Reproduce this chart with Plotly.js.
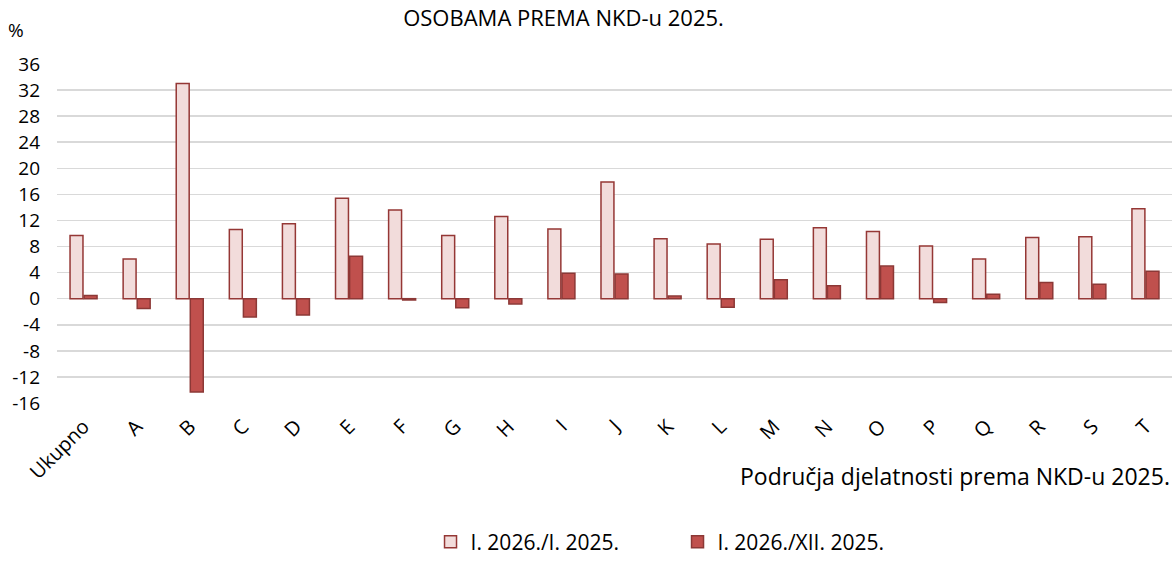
<!DOCTYPE html>
<html>
<head>
<meta charset="utf-8">
<script src="https://cdn.plot.ly/plotly-3.0.1.min.js"></script>
<style>html,body{margin:0;padding:0;background:#fff;}#chart{width:1174px;height:565px;}</style>
</head>
<body>
<div id="chart"></div>
<script>
const categories = ["Ukupno","A","B","C","D","E","F","G","H","I","J","K","L","M","N","O","P","Q","R","S","T"];
const seriesNames = ["I. 2026./I. 2025.", "I. 2026./XII. 2025."];
const yoy = [9.7, 6.1, 33.0, 10.6, 11.5, 15.4, 13.6, 9.7, 12.6, 10.7, 17.9, 9.2, 8.4, 9.1, 10.9, 10.3, 8.1, 6.1, 9.4, 9.5, 13.8];
const mom = [0.5, -1.5, -14.3, -2.8, -2.5, 6.5, -0.2, -1.4, -0.8, 3.9, 3.8, 0.4, -1.3, 2.9, 2.0, 5.0, -0.6, 0.7, 2.5, 2.2, 4.2];
const yTicks = [-16,-12,-8,-4,0,4,8,12,16,20,24,28,32,36];
const titleText = "OSOBAMA PREMA NKD-u 2025.";
const xTitle = "Područja djelatnosti prema NKD-u 2025.";
const yUnit = "%";

const FONT = "Open Sans, Noto Sans, sans-serif";
const traces = [
  {type:"bar", name:seriesNames[0], x:categories, y:yoy,
   marker:{color:"#F2DCDB", line:{color:"#953735", width:1.5}}},
  {type:"bar", name:seriesNames[1], x:categories, y:mom,
   marker:{color:"#C0504D", line:{color:"#8C3836", width:1.5}}}
];
const layout = {
  width:1174, height:565,
  margin:{l:57, r:2, t:64, b:157},
  paper_bgcolor:"#fff", plot_bgcolor:"#fff",
  font:{family:FONT, size:18, color:"#000"},
  barmode:"group", bargap:0.47, bargroupgap:0.08,
  title:{text:titleText, x:0.48, xanchor:"center", y:0.982, yanchor:"top", font:{family:FONT, size:22, color:"#000"}},
  xaxis:{type:"category", tickangle:-45, showgrid:false, zeroline:false, showline:false, ticks:"", ticklabelstandoff:7, tickfont:{size:20}},
  yaxis:{range:[-16,36], tickvals:yTicks, ticktext:yTicks.map(String), showgrid:true, gridcolor:"#D9D9D9", gridwidth:1.5,
         zeroline:true, zerolinecolor:"#D9D9D9", zerolinewidth:1.5, showline:false, ticks:"", ticklabelstandoff:16, tickfont:{size:19}},
  showlegend:true,
  legend:{orientation:"h", x:0.335, xanchor:"left", y:-0.41, yanchor:"middle", entrywidth:202, entrywidthmode:"pixels",
          itemwidth:30, font:{size:21}, traceorder:"normal"},
  annotations:[
    {text:yUnit, xref:"paper", yref:"paper", x:-0.046, y:1.1, xanchor:"left", yanchor:"middle", showarrow:false, font:{size:19}},
    {text:xTitle, xref:"paper", yref:"paper", x:1.0, y:-0.215, xanchor:"right", yanchor:"middle", showarrow:false, font:{size:23}}
  ]
};
Plotly.newPlot("chart", traces, layout, {displayModeBar:false, staticPlot:true});
</script>
</body>
</html>
